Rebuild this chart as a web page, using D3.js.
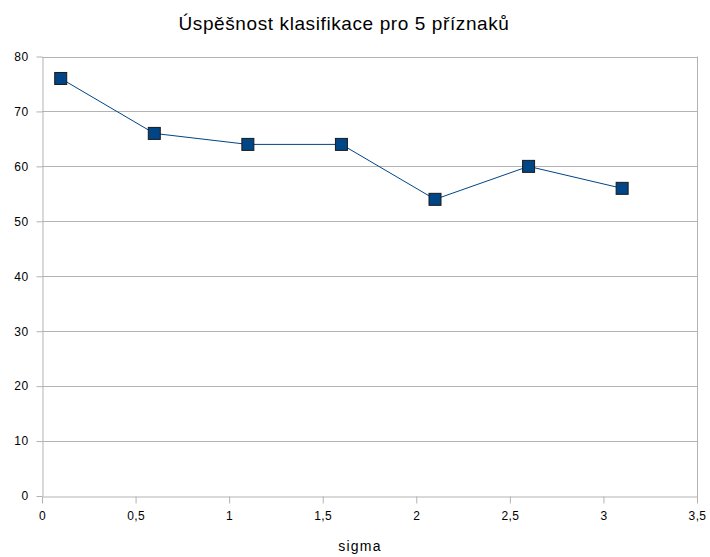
<!DOCTYPE html>
<html>
<head>
<meta charset="utf-8">
<script src="https://cdn.jsdelivr.net/npm/d3@7"></script>
<style>
  body { margin: 0; background: #fff; }
  text { font-family: "Liberation Sans", Arial, sans-serif; fill: #000; }
</style>
</head>
<body>
<div id="chart"></div>
<script>
// values
let sigma = [0.1, 0.6, 1.1, 1.6, 2.1, 2.6, 3.1];
let uspesnost = [76, 66, 64, 64, 54, 60, 56];
let xTicks = [0, 0.5, 1, 1.5, 2, 2.5, 3, 3.5];
let yTicks = [0, 10, 20, 30, 40, 50, 60, 70, 80];

let width = 710, height = 557;
let plotLeft = 42, plotRight = 697, plotTop = 56.5, plotBottom = 496;

let svg = d3.select("#chart").append("svg")
    .attr("width", width)
    .attr("height", height);

let x = d3.scaleLinear().domain([0, 3.5]).range([plotLeft, plotRight]);
let y = d3.scaleLinear().domain([0, 80]).range([plotBottom, plotTop]);

let fmt = d => String(d).replace(".", ",");

// horizontal grid
svg.append("g").selectAll("line").data(yTicks.slice(1)).enter().append("line")
    .attr("x1", plotLeft).attr("x2", plotRight)
    .attr("y1", d => Math.round(y(d)) + 0.5).attr("y2", d => Math.round(y(d)) + 0.5)
    .attr("stroke", "#b3b3b3");

// right border
svg.append("line")
    .attr("x1", plotRight + 0.5).attr("x2", plotRight + 0.5)
    .attr("y1", plotTop).attr("y2", plotBottom + 7)
    .attr("stroke", "#b3b3b3");

let xAxis = svg.append("g")
    .attr("transform", "translate(0," + (Math.round(plotBottom) + 0.5) + ")")
    .call(d3.axisBottom(x).tickValues(xTicks).tickFormat(fmt).tickSizeInner(7).tickSizeOuter(0).tickPadding(8));

let yAxis = svg.append("g")
    .attr("transform", "translate(" + (plotLeft + 0.5) + ",0)")
    .call(d3.axisLeft(y).tickValues(yTicks).tickSizeInner(6).tickSizeOuter(0).tickPadding(8));

[xAxis, yAxis].forEach(a => {
    a.select(".domain").attr("stroke", "#b3b3b3");
    a.selectAll(".tick line").attr("stroke", "#b3b3b3");
    a.selectAll(".tick text").attr("font-size", 12)
        .style("font-family", "'Liberation Sans', Arial, sans-serif")
        .style("letter-spacing", "0.4px");
});

let line = d3.line()
    .x((d, i) => x(sigma[i]))
    .y(d => y(d));

svg.append("path")
    .datum(uspesnost)
    .attr("d", line)
    .attr("fill", "none")
    .attr("stroke", "#004586")
    .attr("stroke-width", 1);

let s = 12;
svg.selectAll("rect.pt").data(uspesnost).enter().append("rect")
    .attr("class", "pt")
    .attr("x", (d, i) => x(sigma[i]) - s / 2)
    .attr("y", d => y(d) - s / 2)
    .attr("width", s).attr("height", s)
    .attr("fill", "#004586")
    .attr("stroke", "#1a1a1a")
    .attr("stroke-width", 1);

svg.append("text")
    .attr("x", 344).attr("y", 30)
    .attr("text-anchor", "middle")
    .attr("font-size", 19)
    .style("letter-spacing", "0.6px")
    .text("Úspěšnost klasifikace pro 5 příznaků");

svg.append("text")
    .attr("x", 360).attr("y", 551)
    .attr("text-anchor", "middle")
    .attr("font-size", 14)
    .style("letter-spacing", "1.2px")
    .text("sigma");
</script>
</body>
</html>
